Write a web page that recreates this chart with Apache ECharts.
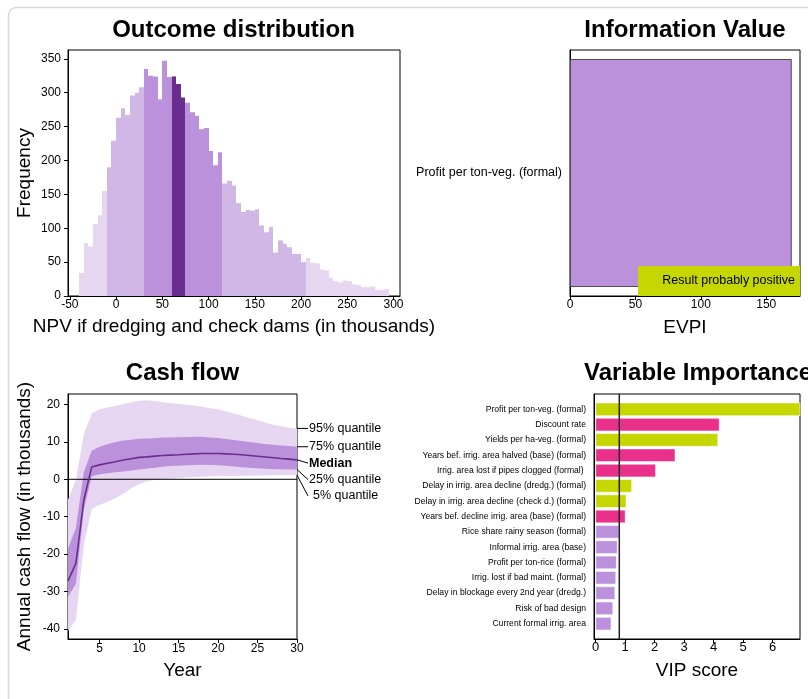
<!DOCTYPE html>
<html>
<head>
<meta charset="utf-8">
<script src="https://cdn.jsdelivr.net/npm/echarts@6/dist/echarts.min.js"></script>
<style>
  html, body { margin: 0; padding: 0; background: #fff; }
  #main { width: 808px; height: 699px; }
</style>
</head>
<body>
<div id="main"></div>
<script>
// ---------- Outcome distribution: NPV histogram (bins of 5 thousand) ----------
const npvBinStart = -40;
const npvBinWidth = 5;
const npvCounts = [34, 78, 73, 106, 119, 155, 190, 229, 263, 277, 267, 296, 300, 308, 335, 325,
  324, 290, 347, 323, 324, 313, 293, 285, 271, 266, 246, 248, 214, 193, 212, 166, 170, 163, 137,
  124, 127, 126, 128, 104, 94, 102, 64, 82, 77, 72, 62, 62, 50, 56, 49, 48, 39, 38, 27, 22, 20,
  23, 22, 17, 16, 13, 13, 14, 9, 9, 10];
// quantile band edges (5%, 25%, ~45%, ~55%, 75%, 95%)
const npvBandEdges = [-10, 30, 60, 75, 115, 205];
const npvTicks = [-50, 0, 50, 100, 150, 200, 250, 300];
const freqTicks = [0, 50, 100, 150, 200, 250, 300, 350];

// ---------- Information value ----------
const evpiVariables = ['Profit per ton-veg. (formal)'];
const evpiValues = [169.5];
const evpiTicks = [0, 50, 100, 150];

// ---------- Cash flow quantiles per year (thousands) ----------
const cfYears = [1, 2, 3, 4, 5, 6, 7, 8, 9, 10, 11, 12, 13, 14, 15, 16, 17, 18, 19, 20,
  21, 22, 23, 24, 25, 26, 27, 28, 29, 30];
const cfQ05 = [-40.5, -37.7, -17.6, -7.9, -6.9, -6.0, -5.05, -3.9, -2.4, -1.3, -0.5, -0.2, 0.05,
  0.2, 0.35, 0.45, 0.6, 0.7, 0.75, 0.8, 0.85, 0.9, 0.95, 0.95, 1.0, 1.0, 1.05, 1.05, 1.1, 1.1];
const cfQ25 = [-31.5, -27.9, -8.2, 0.8, 1.35, 1.6, 1.85, 2.1, 2.35, 2.6, 2.85, 3.1, 3.35, 3.55,
  3.65, 3.75, 3.85, 3.9, 3.85, 3.75, 3.6, 3.4, 3.2, 3.1, 2.95, 2.8, 2.7, 2.65, 2.6, 2.6];
const cfMedian = [-27.2, -22.5, -5.6, 3.3, 3.85, 4.3, 4.7, 5.15, 5.5, 5.85, 6.0, 6.2, 6.35, 6.45,
  6.55, 6.7, 6.8, 6.9, 6.9, 6.9, 6.8, 6.7, 6.55, 6.35, 6.15, 5.95, 5.75, 5.55, 5.4, 5.2];
const cfQ75 = [-18.6, -13.0, 1.9, 7.6, 8.7, 9.35, 9.95, 10.35, 10.6, 10.85, 10.9, 11.0, 11.15,
  11.2, 11.25, 11.3, 11.37, 11.35, 11.2, 11.05, 10.8, 10.5, 10.25, 10.0, 9.7, 9.45, 9.25, 9.05,
  8.9, 8.7];
const cfQ95 = [-5.5, -0.1, 12.0, 17.6, 18.7, 19.2, 19.6, 20.1, 20.6, 21.0, 21.1, 20.9, 20.6, 20.4,
  20.1, 19.9, 19.7, 19.4, 19.0, 18.7, 18.2, 17.6, 17.0, 16.4, 15.8, 15.1, 14.6, 14.2, 13.8, 13.6];
const yearTicks = [5, 10, 15, 20, 25, 30];
const cashTicks = [-40, -30, -20, -10, 0, 10, 20];

// ---------- Variable importance (VIP) ----------
const vipNames = [
  'Profit per ton-veg. (formal)',
  'Discount rate',
  'Yields per ha-veg. (formal)',
  'Years bef. irrig. area halved (base) (formal)',
  'Irrig. area lost if pipes clogged (formal) ',
  'Delay in irrig. area decline (dredg.) (formal)',
  'Delay in irrig. area decline (check d.) (formal)',
  'Years bef. decline irrig. area (base) (formal)',
  'Rice share rainy season (formal)',
  'Informal irrig. area (base)',
  'Profit per ton-rice (formal)',
  'Irrig. lost if bad maint. (formal)',
  'Delay in blockage every 2nd year (dredg.)',
  'Risk of bad design',
  'Current formal irrig. area'
];
const vipScores = [7.0, 4.19, 4.14, 2.69, 2.03, 1.22, 1.03, 1.0, 0.79, 0.73, 0.70, 0.68, 0.65, 0.58, 0.52];
// sign of the PLS coefficient (null where not shown in colour)
const vipSign = [1, -1, 1, -1, -1, 1, 1, -1, null, null, null, null, null, null, null];
const vipThreshold = 0.8;
const vipTicks = [0, 1, 2, 3, 4, 5, 6];

// ---------- styling ----------
const FONT = '"Liberation Sans", Arial, Helvetica, sans-serif';
const INK = '#000';
const C_LIGHTEST = '#E7D6F1';
const C_LIGHT = '#D1B7E6';
const C_MED = '#BC91DB';
const C_DARK = '#692D8F';
const C_POS = '#C5D600';
const C_NEG = '#E9308B';
const npvBandColors = [C_LIGHTEST, C_LIGHT, C_MED, C_DARK, C_MED, C_LIGHT, C_LIGHTEST];

const histData = npvCounts.map((n, i) => {
  const x0 = npvBinStart + i * npvBinWidth;
  let band = 0;
  while (band < npvBandEdges.length && x0 >= npvBandEdges[band]) band++;
  return [x0, x0 + npvBinWidth, n, band];
});

// one row per year: year, 5%, 25%, median, 75%, 95%
const cfRows = cfYears.map((y, i) => [y, cfQ05[i], cfQ25[i], cfMedian[i], cfQ75[i], cfQ95[i]]);

const vipPalette = [C_MED, C_POS, C_NEG];
const vipData = vipScores.map((s, i) => {
  let c = 0;
  if (s >= vipThreshold && vipSign[i] !== null) c = vipSign[i] > 0 ? 1 : 2;
  return [s, i + 1, c];
});

function valueAxis(gridIndex, min, max, ticks, opts) {
  const o = opts || {};
  return {
    type: 'value', gridIndex, min, max,
    inverse: !!o.inverse,
    name: o.name || '',
    nameLocation: 'middle',
    nameGap: o.nameGap || 30,
    nameTextStyle: { fontSize: 19, fontFamily: FONT, color: INK },
    axisLine: { show: true, onZero: false, lineStyle: { color: INK, width: 1 } },
    axisTick: { show: o.tick !== false, inside: false, length: 4, customValues: ticks,
      lineStyle: { color: INK, width: 1 } },
    axisLabel: { customValues: ticks, color: INK, fontSize: o.fontSize || 12, fontFamily: FONT,
      margin: o.margin == null ? 4 : o.margin, formatter: o.formatter },
    splitLine: { show: false }
  };
}

const gridBase = { show: true, borderColor: INK, borderWidth: 1, backgroundColor: 'transparent',
  containLabel: false, outerBoundsMode: 'none' };

const chart = echarts.init(document.getElementById('main'), null, { renderer: 'canvas' });

const titleStyle = { fontSize: 24, fontWeight: 'bold', fontFamily: FONT, fill: INK,
  textAlign: 'center', textVerticalAlign: 'middle' };

// band between two quantile columns of cfRows, as one polygon
function bandPolygon(api, n, lowDim, highDim, color) {
  const pts = [];
  for (let i = 0; i < n; i++) pts.push(api.coord([api.value(0, i), api.value(highDim, i)]));
  for (let i = n - 1; i >= 0; i--) pts.push(api.coord([api.value(0, i), api.value(lowDim, i)]));
  return { type: 'polygon', shape: { points: pts }, style: { fill: color } };
}

chart.setOption({
  backgroundColor: '#fff',
  animation: false,
  grid: [
    Object.assign({ left: 68, top: 50, width: 332, height: 246 }, gridBase),
    Object.assign({ left: 570, top: 50, width: 230, height: 246 }, gridBase),
    Object.assign({ left: 68, top: 394, width: 229, height: 245 }, gridBase),
    Object.assign({ left: 594, top: 394, width: 206, height: 245 }, gridBase)
  ],
  xAxis: [
    valueAxis(0, -52, 307, npvTicks, { name: 'NPV if dredging and check dams (in thousands)', nameGap: 21, margin: 3 }),
    valueAxis(1, 0, 175.8, evpiTicks, { name: 'EVPI', nameGap: 22, margin: 3 }),
    valueAxis(2, 1, 30, yearTicks, { name: 'Year', nameGap: 22, margin: 4 }),
    valueAxis(3, -0.058, 6.93, vipTicks, { name: 'VIP score', nameGap: 22, margin: 2, fontSize: 13 })
  ],
  yAxis: [
    valueAxis(0, 0, 363, freqTicks, { name: 'Frequency', nameGap: 34, margin: 7 }),
    {
      type: 'category', gridIndex: 1, data: evpiVariables,
      axisLine: { show: true, lineStyle: { color: INK } },
      axisTick: { show: false },
      axisLabel: { color: INK, fontSize: 12.5, fontFamily: FONT, margin: 8 },
      splitLine: { show: false }
    },
    valueAxis(2, -42.7, 22.8, cashTicks, { name: 'Annual cash flow (in thousands)', nameGap: 34, margin: 8 }),
    valueAxis(3, 0, 16, [1, 2, 3, 4, 5, 6, 7, 8, 9, 10, 11, 12, 13, 14, 15], {
      inverse: true, tick: false, margin: 8, fontSize: 8.6,
      formatter: (v) => vipNames[v - 1] || ''
    })
  ],
  series: [
    {
      name: 'NPV distribution', type: 'custom', xAxisIndex: 0, yAxisIndex: 0,
      data: histData, silent: true,
      renderItem: (params, api) => {
        const p0 = api.coord([api.value(0), api.value(2)]);
        const p1 = api.coord([api.value(1), 0]);
        const x0 = Math.round(p0[0]), x1 = Math.round(p1[0]);
        return {
          type: 'rect',
          shape: { x: x0, y: p0[1], width: x1 - x0, height: p1[1] - p0[1] },
          style: { fill: npvBandColors[api.value(3)] }
        };
      }
    },
    {
      name: 'EVPI', type: 'bar', xAxisIndex: 1, yAxisIndex: 1,
      data: evpiValues, barWidth: '92.7%', silent: true,
      itemStyle: { color: C_MED, borderColor: '#4d4d4d', borderWidth: 1 }
    },
    {
      name: 'Cash flow quantile bands', type: 'custom', xAxisIndex: 2, yAxisIndex: 2,
      data: cfRows, silent: true,
      encode: { x: 0, y: [1, 2, 3, 4, 5] },
      renderItem: (params, api) => {
        if (params.dataIndexInside !== 0) return null;
        const n = params.dataInsideLength;
        return {
          type: 'group',
          children: [
            bandPolygon(api, n, 1, 5, C_LIGHTEST),
            bandPolygon(api, n, 2, 4, C_MED)
          ]
        };
      }
    },
    {
      name: 'zero', type: 'line', xAxisIndex: 2, yAxisIndex: 2,
      data: [[cfYears[0], 0], [cfYears[cfYears.length - 1], 0]],
      symbol: 'none', silent: true, lineStyle: { color: INK, width: 1 }
    },
    {
      name: 'Median', type: 'line', xAxisIndex: 2, yAxisIndex: 2,
      data: cfYears.map((y, i) => [y, cfMedian[i]]), symbol: 'none', silent: true,
      lineStyle: { color: C_DARK, width: 1.6 }
    },
    {
      name: 'VIP', type: 'custom', xAxisIndex: 3, yAxisIndex: 3,
      data: vipData, silent: true,
      renderItem: (params, api) => {
        const a = api.coord([0, api.value(1)]);
        const b = api.coord([api.value(0), api.value(1)]);
        const h = Math.abs(api.size([0, 0.83])[1]);
        const cs = params.coordSys;
        const shape = echarts.graphic.clipRectByRect(
          { x: a[0], y: a[1] - h / 2, width: b[0] - a[0], height: h },
          { x: cs.x, y: cs.y, width: cs.width, height: cs.height });
        if (!shape) return null;
        return {
          type: 'rect', shape,
          style: { fill: vipPalette[api.value(2)], stroke: 'rgba(255,255,255,0.55)', lineWidth: 1 }
        };
      }
    },
    {
      name: 'VIP threshold', type: 'line', xAxisIndex: 3, yAxisIndex: 3,
      data: [[vipThreshold, 0], [vipThreshold, 16]],
      symbol: 'none', silent: true, z: 5, lineStyle: { color: '#222', width: 1.5 }
    }
  ],
  graphic: [
    { id: 'frame', type: 'rect', z: -10, silent: true,
      shape: { x: 8.5, y: 7.5, width: 840, height: 740, r: 8 },
      style: { fill: 'none', stroke: '#d8d8d8', lineWidth: 1.5 } },
    { id: 't1', type: 'text', x: 233.5, y: 30, silent: true,
      style: Object.assign({ text: 'Outcome distribution' }, titleStyle) },
    { id: 't2', type: 'text', x: 685, y: 30, silent: true,
      style: Object.assign({ text: 'Information Value' }, titleStyle) },
    { id: 't3', type: 'text', x: 182.5, y: 373, silent: true,
      style: Object.assign({ text: 'Cash flow' }, titleStyle) },
    { id: 't4', type: 'text', x: 584, y: 373, silent: true,
      style: Object.assign({ text: 'Variable Importance' }, titleStyle, { textAlign: 'left' }) },
    { id: 'resultRect', type: 'rect', z: 100, silent: true,
      shape: { x: 638, y: 266, width: 162, height: 30 }, style: { fill: C_POS } },
    { id: 'resultText', type: 'text', z: 101, silent: true, x: 795, y: 281,
      style: { text: 'Result probably positive', fontSize: 12.5, fontFamily: FONT, fill: INK,
        textAlign: 'right', textVerticalAlign: 'middle' } }
  ]
});

// quantile labels at the right end of the cash flow panel, with leader lines
const cfEndLabels = [
  { text: '95% quantile', values: cfQ95 },
  { text: '75% quantile', values: cfQ75 },
  { text: 'Median', values: cfMedian, bold: true },
  { text: '25% quantile', values: cfQ25 },
  { text: '5% quantile', values: cfQ05, indent: 4 }
];
const labelGraphics = [];
let prevY = -Infinity;
cfEndLabels.forEach((l, i) => {
  const lastYear = cfYears[cfYears.length - 1];
  const p = chart.convertToPixel({ xAxisIndex: 2, yAxisIndex: 2 }, [lastYear, l.values[l.values.length - 1]]);
  const ly = Math.max(p[1], prevY + 16.4);
  prevY = ly;
  labelGraphics.push({
    id: 'cfl' + i, type: 'line', silent: true,
    shape: { x1: p[0], y1: p[1], x2: p[0] + 11, y2: ly },
    style: { stroke: INK, lineWidth: 1 }
  });
  labelGraphics.push({
    id: 'cft' + i, type: 'text', silent: true, x: p[0] + 12 + (l.indent || 0), y: ly,
    style: { text: l.text, fontSize: 12.5, fontFamily: FONT, fill: INK,
      fontWeight: l.bold ? 'bold' : 'normal', textVerticalAlign: 'middle' }
  });
});
chart.setOption({ graphic: labelGraphics });
</script>
</body>
</html>
